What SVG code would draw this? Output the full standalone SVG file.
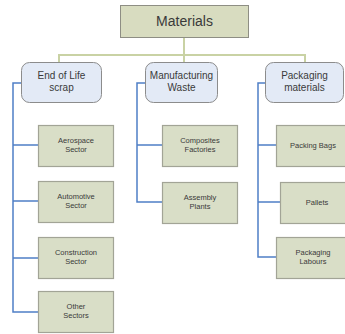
<svg xmlns="http://www.w3.org/2000/svg" width="345" height="334" viewBox="0 0 345 334">
<style>
.root{fill:#d8dcc0;stroke:#8e8e84;stroke-width:1}
.cat{fill:#e3eaf6;stroke:#8c8c8c;stroke-width:1}
.leaf{fill:#d9dec7;stroke:#a2a496;stroke-width:1.2}
.g{stroke:#c9d2a4;stroke-width:2;fill:none}
.b{stroke:#4f7fc6;stroke-width:1.5;fill:none}
text{font-family:"Liberation Sans",Arial,sans-serif;fill:#3a3a3a;text-anchor:middle}
.t1{font-size:14px}
.t2{font-size:10px}
.t3{font-size:7.5px}
</style>
<rect width="345" height="334" fill="#fff"/>
<g id="connectors">
<path class="g" d="M184,37 V62 M59,62 V55 H305 V62"/>
<path class="b" d="M21,83 H13 V312 H38 M13,145 H38 M13,201 H38 M13,258 H38"/>
<path class="b" d="M145,83 H137 V202 H162 M137,145 H162"/>
<path class="b" d="M265,83 H258 V257 H276 M258,145 H276 M258,202 H280"/>
</g>
<g id="materials"><rect class="root" x="120.5" y="5.5" width="128" height="32"/><text class="t1" x="184.5" y="26">Materials</text></g>
<g id="eol"><rect class="cat" x="21.5" y="62.5" width="80" height="40" rx="8"/><text class="t2" x="61.5" y="79">End of Life</text><text class="t2" x="61.5" y="91">scrap</text></g>
<g id="mfg"><rect class="cat" x="145.5" y="62.5" width="72" height="40" rx="8"/><text class="t2" x="181.5" y="79">Manufacturing</text><text class="t2" x="181.5" y="91">Waste</text></g>
<g id="pkg"><rect class="cat" x="265.5" y="62.5" width="78" height="40" rx="8"/><text class="t2" x="304.5" y="79">Packaging</text><text class="t2" x="304.5" y="91">materials</text></g>
<g id="aero"><rect class="leaf" x="38.5" y="125.5" width="75" height="41"/><text class="t3" x="76" y="143">Aerospace</text><text class="t3" x="76" y="152">Sector</text></g>
<g id="auto"><rect class="leaf" x="38.5" y="181.5" width="75" height="41"/><text class="t3" x="76" y="199">Automotive</text><text class="t3" x="76" y="208">Sector</text></g>
<g id="cons"><rect class="leaf" x="38.5" y="237.5" width="75" height="41"/><text class="t3" x="76" y="255">Construction</text><text class="t3" x="76" y="264">Sector</text></g>
<g id="other"><rect class="leaf" x="38.5" y="291.5" width="75" height="41"/><text class="t3" x="76" y="309">Other</text><text class="t3" x="76" y="318">Sectors</text></g>
<g id="comp"><rect class="leaf" x="162.5" y="125.5" width="75" height="41"/><text class="t3" x="200" y="143">Composites</text><text class="t3" x="200" y="152">Factories</text></g>
<g id="assy"><rect class="leaf" x="162.5" y="182.5" width="75" height="41"/><text class="t3" x="200" y="200">Assembly</text><text class="t3" x="200" y="209">Plants</text></g>
<g id="bags"><rect class="leaf" x="276.5" y="125.5" width="75" height="41"/><text class="t3" x="313" y="148">Packing Bags</text></g>
<g id="pallets"><rect class="leaf" x="280.5" y="182.5" width="75" height="41"/><text class="t3" x="317" y="205">Pallets</text></g>
<g id="labours"><rect class="leaf" x="276.5" y="237.5" width="75" height="41"/><text class="t3" x="313" y="255">Packaging</text><text class="t3" x="313" y="264">Labours</text></g>
</svg>
